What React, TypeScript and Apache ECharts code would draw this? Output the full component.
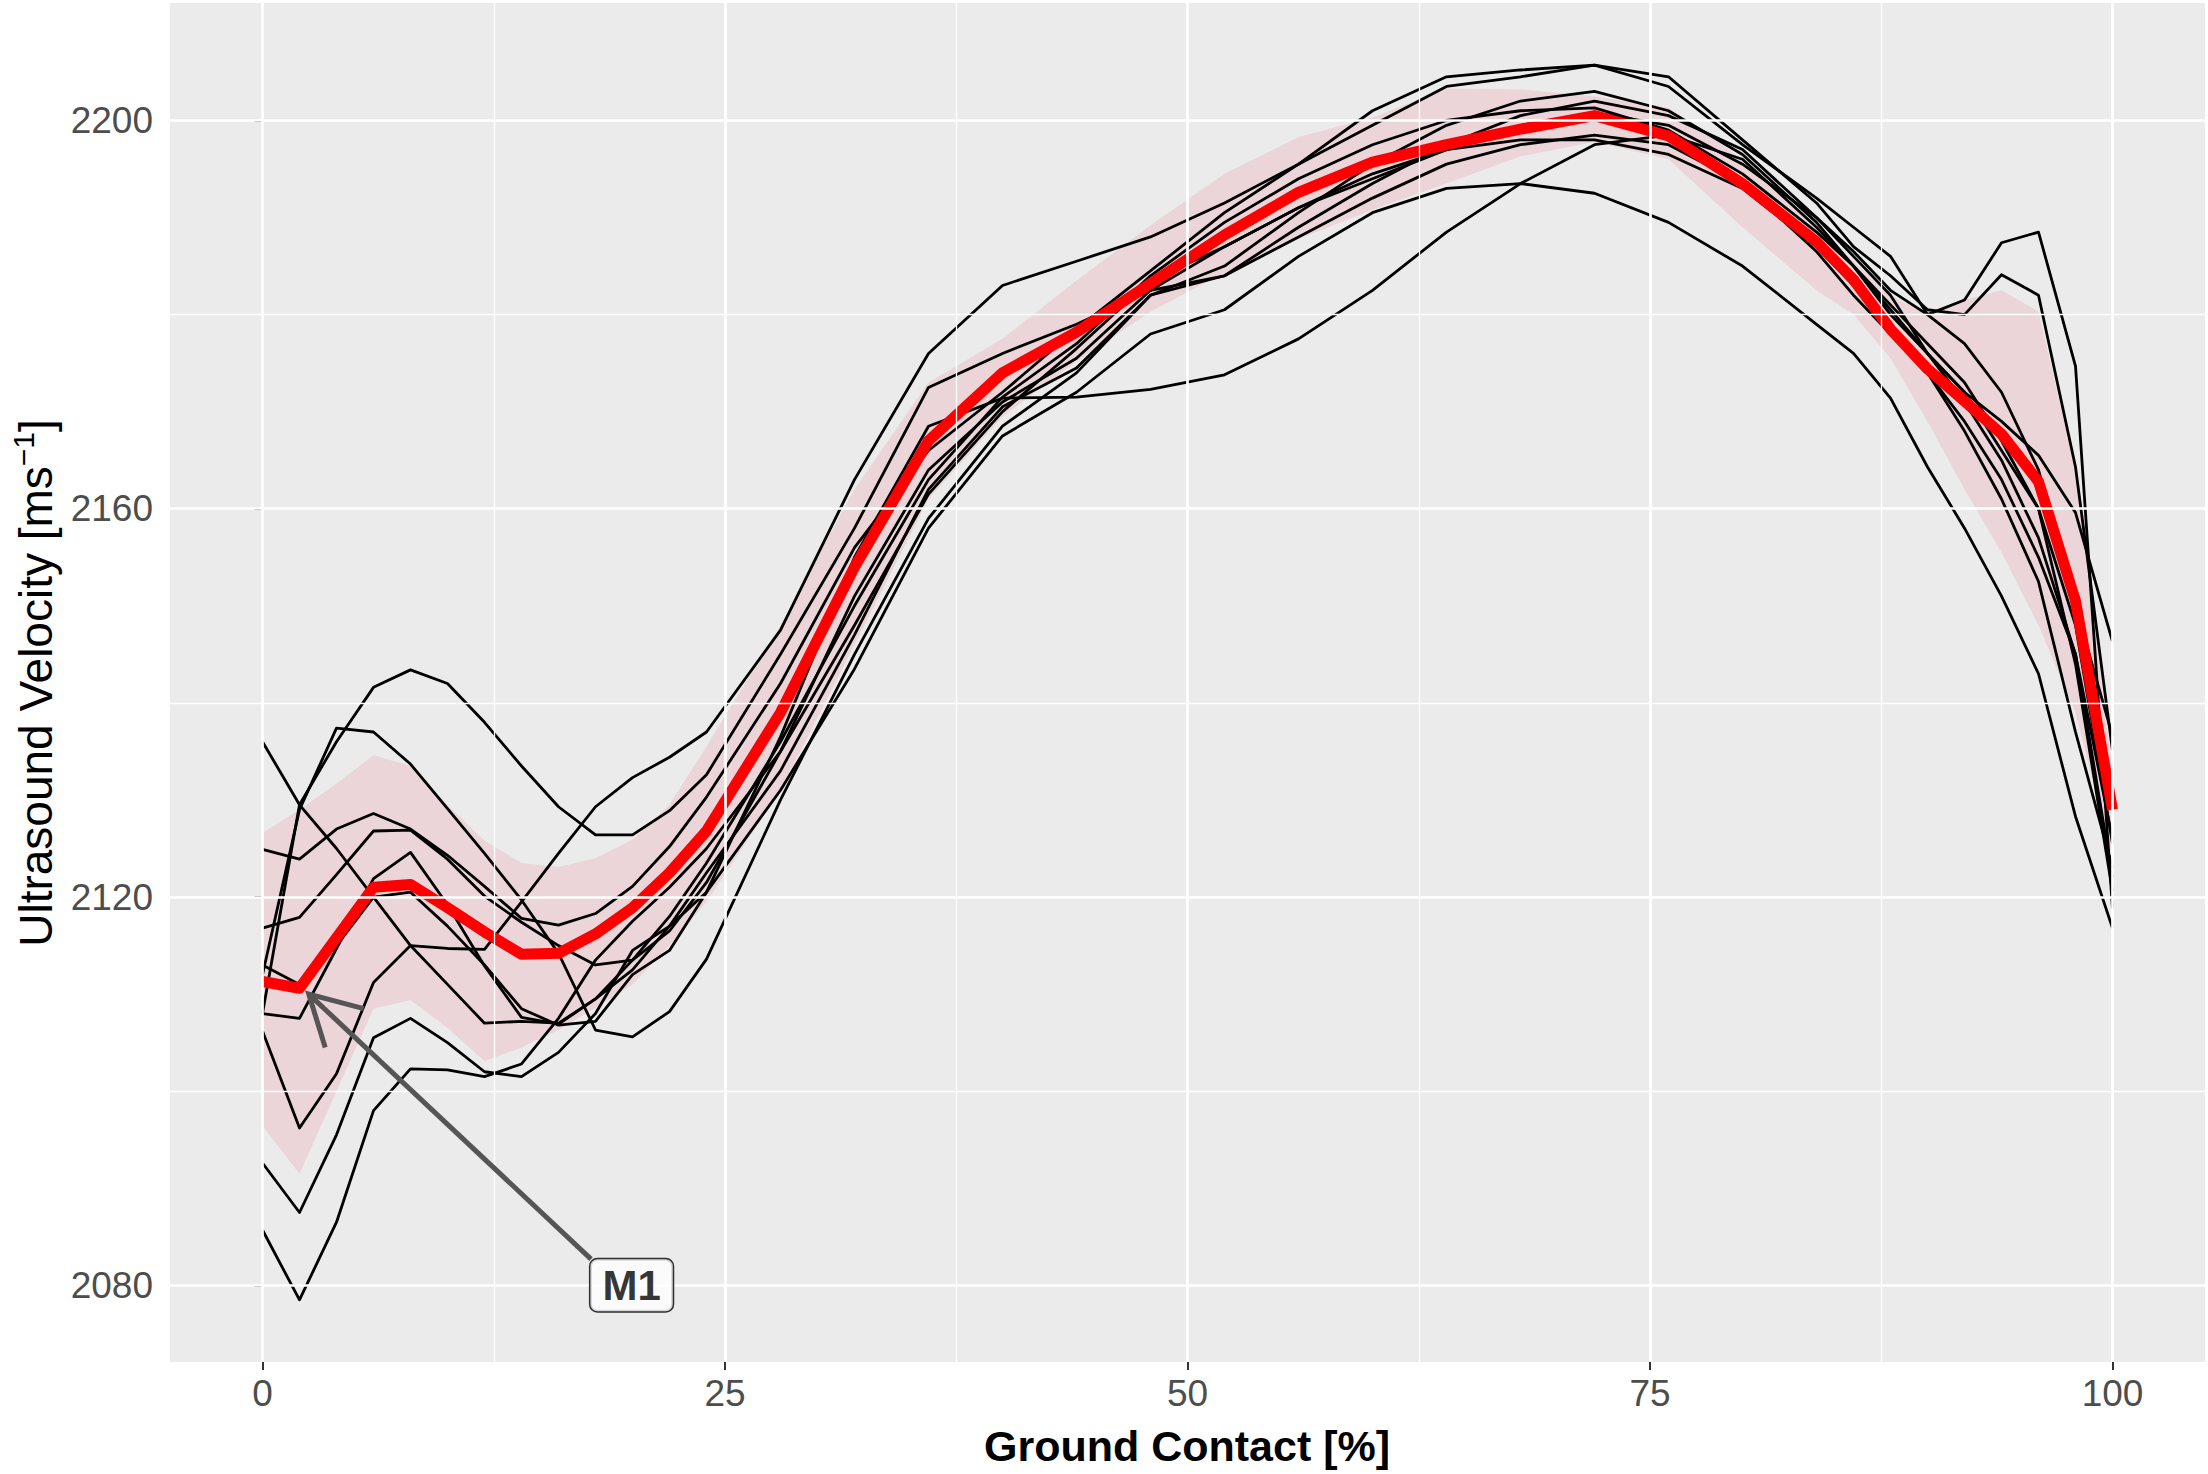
import React, { useEffect, useRef } from "react";
import * as echarts from "echarts";

// Ground contact positions (%) at which the curves were read
const xs = [0, 2, 4, 6, 8, 10, 12, 14, 16, 18, 20, 22, 24, 28, 32, 36, 40, 44, 48, 52, 56, 60, 64, 68, 72, 76, 80, 84, 86, 88, 90, 92, 94, 96, 98, 100];

// Individual trials (black lines)
const trial1 = [2136, 2129.5, 2125, 2120, 2115, 2111, 2107, 2107.2, 2107, 2109.5, 2113.5, 2118, 2123.5, 2136, 2150, 2163, 2171.5, 2177, 2184, 2189.5, 2194, 2197.5, 2200, 2201, 2201.3, 2199, 2194.5, 2188.5, 2185, 2180.5, 2176, 2172, 2169, 2165.5, 2159.6, 2146.3];
const trial2 = [2108, 2129.5, 2136, 2141.6, 2143.4, 2142, 2138, 2133.5, 2129.3, 2126.4, 2126.4, 2128.9, 2132.6, 2145, 2158, 2172.5, 2176, 2179, 2182.5, 2187, 2191, 2194, 2197, 2199.5, 2200.8, 2199.5, 2195.5, 2190, 2186.5, 2182.5, 2180, 2181.5, 2187.4, 2188.5, 2174.7, 2118.8];
const trial3 = [2112, 2129, 2137.4, 2137, 2133.7, 2129.1, 2124.5, 2119.7, 2114.2, 2106.3, 2105.6, 2108.2, 2113.6, 2130, 2145, 2159, 2168.5, 2174, 2182, 2185, 2190.5, 2195.5, 2199.5, 2202, 2203, 2201, 2196.5, 2189.5, 2185, 2180, 2176, 2171, 2165, 2157, 2145, 2122];
const trial4 = [2124.9, 2123.9, 2127, 2128.6, 2127, 2124.3, 2121.1, 2117.8, 2117.1, 2118.3, 2121.1, 2125.2, 2130.3, 2142, 2156, 2166, 2172, 2178.5, 2184.5, 2190.5, 2195.5, 2199.5, 2203.5, 2204.5, 2205.7, 2204.5, 2198, 2191.5, 2187, 2184, 2180.5, 2180, 2184.1, 2182, 2164.3, 2135.1];
const trial5 = [2106.2, 2096.2, 2101.8, 2111.2, 2115, 2114.7, 2114.6, 2119.5, 2124.5, 2129.3, 2132.3, 2134.4, 2137, 2147.5, 2163, 2176, 2183, 2185.5, 2188, 2191.5, 2195.5, 2201, 2204.5, 2205.2, 2205.7, 2203.5, 2197.5, 2192, 2189, 2186, 2180, 2177, 2172, 2164, 2150, 2136.6];
const trial6 = [2116.8, 2117.9, 2122.3, 2126.8, 2126.9, 2123.9, 2120.1, 2117.4, 2115, 2113, 2113.5, 2116.5, 2121.5, 2135, 2151, 2164, 2171, 2175.5, 2182.5, 2184, 2188, 2192, 2195.5, 2197.5, 2198.5, 2197.5, 2193.5, 2186.5, 2182, 2178, 2174, 2169, 2163, 2155, 2145, 2126];
const trial7 = [2113, 2111, 2115, 2120, 2120.5, 2117, 2113, 2108.5, 2106.8, 2107.2, 2112, 2114.5, 2120.5, 2136.5, 2155, 2168.5, 2171.4, 2171.5, 2172.3, 2173.8, 2177.5, 2182.5, 2188.5, 2193.5, 2197.5, 2198.5, 2196, 2189, 2185, 2181, 2177, 2173, 2167, 2160, 2144, 2120.6];
const trial8 = [2085.7, 2078.5, 2086.5, 2098, 2102.3, 2102.2, 2101.5, 2102.8, 2107.5, 2113.5, 2117.5, 2121, 2125, 2135, 2148, 2161.5, 2170, 2176.5, 2183.5, 2187, 2191, 2194.5, 2197, 2198, 2198, 2196.5, 2193, 2187, 2183, 2178.5, 2174, 2168, 2161, 2152.5, 2137, 2123];
const trial9 = [2092.6, 2087.5, 2095.5, 2105.5, 2107.5, 2105, 2102, 2101.5, 2104, 2108, 2114.5, 2117, 2120.5, 2131, 2143.5, 2158, 2167.5, 2172, 2178, 2180.5, 2186, 2190.5, 2193, 2193.5, 2192.5, 2189.5, 2185, 2179, 2176, 2171.4, 2164.3, 2158, 2151, 2143, 2128.3, 2116.8];
const trial10 = [2108, 2107.5, 2114.7, 2121.9, 2124.6, 2119.2, 2112.9, 2107.6, 2106.9, 2109.5, 2112.5, 2117, 2122.5, 2133, 2147, 2162, 2170.5, 2174.5, 2182, 2184, 2189, 2193.5, 2197.5, 2200.5, 2202, 2200.5, 2197, 2190, 2186, 2182, 2176, 2172, 2166, 2160, 2148, 2125.5];
const trials = [trial1, trial2, trial3, trial4, trial5, trial6, trial7, trial8, trial9, trial10];

// Mean curve (red) and its band (pink)
const meanCurve = [2111.3, 2110.6, 2115.8, 2121.0, 2121.3, 2118.9, 2116.4, 2114.1, 2114.2, 2116.2, 2118.9, 2122.5, 2126.8, 2139.0, 2154.0, 2167.0, 2174.0, 2178.2, 2183.2, 2188.2, 2192.6, 2195.7, 2197.5, 2199.1, 2200.5, 2198.4, 2193.5, 2187.5, 2183.6, 2178.5, 2174.4, 2171.1, 2167.7, 2162.8, 2150.5, 2129.0];
const bandUpper = [2126.6, 2129.0, 2131.7, 2134.6, 2133.5, 2129.5, 2125.8, 2123.5, 2123.1, 2124.0, 2125.9, 2129.5, 2135.5, 2148, 2162, 2173, 2177.5, 2183.5, 2189.2, 2194.5, 2198.3, 2200.3, 2203.3, 2203.2, 2202.5, 2201.3, 2196, 2189, 2185.5, 2182, 2180, 2181.5, 2182.5, 2180.3, 2164, 2133];
const bandLower = [2096.4, 2091.5, 2100.0, 2108.5, 2109.4, 2106.5, 2103.1, 2104.5, 2106.3, 2108.6, 2111.0, 2115.0, 2119.5, 2131, 2146, 2161, 2169.5, 2175.2, 2180.3, 2184.3, 2187.8, 2190.8, 2193.5, 2196.3, 2197.8, 2196.0, 2189, 2182.5, 2180, 2175.5, 2169, 2162, 2155.5, 2148, 2139, 2124];

// Axis ticks and grid
const xTicks = [0, 25, 50, 75, 100];
const xMinor = [12.5, 37.5, 62.5, 87.5];
const yTicks = [2080, 2120, 2160, 2200];
const yMinor = [2100, 2140, 2180];

// Annotation "M1"
const annoLabel = "M1";
const annoLabelPos = [19.95, 2080];
const annoShaft = [[2.5, 2110], [17.76, 2082.7]];
const annoHead = [[3.39, 2104.5], [2.5, 2110], [5.47, 2108.5]];

const FONT = '"Liberation Sans", Arial, sans-serif';

export default function App() {
  const ref = useRef<HTMLDivElement>(null);

  useEffect(() => {
    document.body.style.margin = "0";
    document.body.style.background = "#ffffff";
    if (!ref.current) return;
    const chart = echarts.init(ref.current, null, { renderer: "svg" });

    const pair = (ys: number[]) => xs.map((x, i) => [x, ys[i]]);

    const gridMarks = [
      ...xTicks.map((v) => ({ xAxis: v, lineStyle: { color: "#ffffff", width: 2.7, type: "solid" } })),
      ...xMinor.map((v) => ({ xAxis: v, lineStyle: { color: "#ffffff", width: 1.3, type: "solid" } })),
      ...yTicks.map((v) => ({ yAxis: v, lineStyle: { color: "#ffffff", width: 2.7, type: "solid" } })),
      ...yMinor.map((v) => ({ yAxis: v, lineStyle: { color: "#ffffff", width: 1.3, type: "solid" } })),
    ];

    const trialSeries = trials.map((t, k) => ({
      name: "trial" + (k + 1),
      type: "line",
      data: pair(t),
      symbol: "none",
      showSymbol: false,
      lineStyle: { color: "#000000", width: 2.8, join: "round" },
      z: 3,
      silent: true,
    }));

    const option: any = {
      animation: false,
      backgroundColor: "#ffffff",
      grid: {
        left: 170,
        right: 3,
        top: 3,
        bottom: 112,
        show: true,
        backgroundColor: "#EBEBEB",
        borderWidth: 0,
        containLabel: false,
        outerBoundsMode: "none",
      },
      xAxis: {
        type: "value",
        min: -5,
        max: 105,
        axisLine: { show: false },
        splitLine: { show: false },
        axisTick: { show: true, customValues: xTicks, length: 8, lineStyle: { color: "#333333", width: 2 } },
        axisLabel: {
          customValues: xTicks,
          margin: 13,
          fontSize: 37,
          color: "#4D4D4D",
          fontFamily: FONT,
          formatter: (v: number) => String(v),
        },
      },
      yAxis: {
        type: "value",
        min: 2072.1,
        max: 2212.1,
        axisLine: { show: false },
        splitLine: { show: false },
        axisTick: { show: true, customValues: yTicks, length: 8, lineStyle: { color: "#333333", width: 2 } },
        axisLabel: {
          customValues: yTicks,
          margin: 17,
          fontSize: 37,
          color: "#4D4D4D",
          fontFamily: FONT,
          formatter: (v: number) => String(v),
        },
      },
      graphic: [
        {
          type: "text",
          x: 36,
          y: 683,
          rotation: Math.PI / 2,
          style: {
            text: "{n|Ultrasound Velocity [ms}{s|\u22121}{n|]}",
            align: "center",
            verticalAlign: "middle",
            fill: "#000000",
            rich: {
              n: { fontSize: 46, fontFamily: FONT, fill: "#000000", lineHeight: 56, verticalAlign: "middle" },
              s: { fontSize: 30, fontFamily: FONT, fill: "#000000", lineHeight: 30, verticalAlign: "top" },
            },
          },
        },
        {
          type: "text",
          x: 1187,
          y: 1446,
          style: {
            text: "Ground Contact [%]",
            fontSize: 43,
            fontWeight: "bold",
            fontFamily: FONT,
            fill: "#000000",
            align: "center",
            verticalAlign: "middle",
          },
        },
      ],
      series: [
        {
          name: "gridHolder",
          type: "line",
          data: pair(bandLower),
          symbol: "none",
          lineStyle: { opacity: 0 },
          z: 1,
          silent: true,
          markLine: {
            silent: true,
            symbol: "none",
            label: { show: false },
            animation: false,
            data: gridMarks,
          },
        },
        {
          name: "band",
          type: "custom",
          data: xs.map((x, i) => [x, bandLower[i], bandUpper[i]]),
          encode: { x: 0, y: [1, 2] },
          z: 2,
          silent: true,
          renderItem: (params: any, api: any) => {
            if (params.dataIndex !== 0) return null;
            const pts: number[][] = [];
            for (let i = 0; i < xs.length; i++) pts.push(api.coord([xs[i], bandUpper[i]]));
            for (let i = xs.length - 1; i >= 0; i--) pts.push(api.coord([xs[i], bandLower[i]]));
            return {
              type: "polygon",
              shape: { points: pts },
              style: { fill: "rgba(240,60,80,0.12)", stroke: "none" },
            };
          },
        },
        ...trialSeries,
        {
          name: "mean",
          type: "line",
          data: pair(meanCurve),
          symbol: "none",
          lineStyle: { color: "#FF0000", width: 11, join: "round" },
          z: 4,
          silent: true,
        },
        {
          name: "arrowShaft",
          type: "line",
          data: annoShaft,
          symbol: "none",
          lineStyle: { color: "#555555", width: 5 },
          z: 5,
          silent: true,
        },
        {
          name: "arrowHead",
          type: "line",
          data: annoHead,
          symbol: "none",
          lineStyle: { color: "#555555", width: 5, join: "miter" },
          z: 5,
          silent: true,
        },
        {
          name: "label",
          type: "scatter",
          data: [annoLabelPos],
          symbolSize: 1,
          itemStyle: { color: "rgba(0,0,0,0)" },
          z: 6,
          silent: true,
          label: {
            show: true,
            position: "inside",
            formatter: annoLabel,
            fontSize: 42,
            fontWeight: "bold",
            fontFamily: FONT,
            color: "#000000",
            backgroundColor: "#ffffff",
            borderColor: "#000000",
            borderWidth: 1.5,
            borderRadius: 7,
            padding: [6, 12, 4, 12],
          },
        },
      ],
    };

    chart.setOption(option);
    return () => chart.dispose();
  }, []);

  return <div ref={ref} style={{ width: 2208, height: 1474 }} />;
}
